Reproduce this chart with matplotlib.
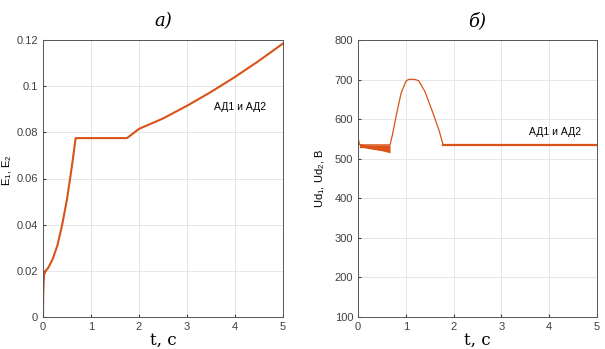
import numpy as np
import matplotlib.pyplot as plt

plt.rcParams['font.family'] = ['Liberation Sans', 'DejaVu Sans']
plt.rcParams['mathtext.fontset'] = 'custom'
plt.rcParams['mathtext.rm'] = 'Liberation Sans'
plt.rcParams['mathtext.it'] = 'Liberation Sans'

# a) E1, E2 vs t
t_e = [0, 0.005, 0.02, 0.05, 0.1, 0.2, 0.3, 0.4, 0.5, 0.6, 0.68, 0.7,
       1.0, 1.5, 1.75, 2.0, 2.5, 3.0, 3.5, 4.0, 4.5, 5.0]
e_vals = [0, 0.010, 0.018, 0.020, 0.021, 0.025, 0.031, 0.040, 0.051, 0.065, 0.0775, 0.0775,
          0.0775, 0.0775, 0.0775, 0.0815, 0.0860, 0.0915, 0.0975, 0.1040, 0.1110, 0.1185]

# б) Ud1, Ud2 vs t
t_u = [0, 0.003, 0.01, 0.03, 0.1, 0.3, 0.5, 0.67, 0.72, 0.81, 0.9, 1.0, 1.05, 1.1,
       1.2, 1.27, 1.4, 1.57, 1.7, 1.78, 2.0, 3.0, 4.0, 5.0]
u_vals = [180, 400, 548, 536, 535, 535, 535, 535, 560, 615, 665, 695, 700, 701,
          700, 697, 670, 615, 570, 535, 535, 535, 535, 535]
# ripple band at start (upper / lower envelope)
t_band = [0.03, 0.1, 0.3, 0.5, 0.67]
band_hi = [537, 536, 535, 535, 535]
band_lo = [528, 528, 524, 520, 515]

col = '#D95319'
label = 'АД1 и АД2'

fig = plt.figure(figsize=(6.05, 3.49), dpi=100)
ax1 = fig.add_axes([43/605, 32/349, 240/605, 277/349])
ax2 = fig.add_axes([358/605, 32/349, 239/605, 277/349])

ax1.plot(t_e, e_vals, color=col, lw=1.5)
ax1.set_ylim(0, 0.12)
ax1.set_yticks([0, 0.02, 0.04, 0.06, 0.08, 0.1, 0.12])
ax1.set_yticklabels(['0', '0.02', '0.04', '0.06', '0.08', '0.1', '0.12'])
ax1.set_ylabel('E$_1$, E$_2$', fontsize=8)
ax1.yaxis.set_label_coords(-0.12, 0.53)
ax1.text(4.1, 0.091, label, fontsize=7.5, ha='center', va='center')

ax2.plot(t_u, u_vals, color=col, lw=0.9)
ax2.fill_between(t_band, band_lo, band_hi, color=col, lw=0)
ax2.plot([1.78, 5.0], [535, 535], color=col, lw=1.6)
ax2.set_ylim(100, 800)
ax2.set_ylabel('Ud$_1$, Ud$_2$, В', fontsize=8)
ax2.yaxis.set_label_coords(-0.13, 0.5)
ax2.text(4.12, 568, label, fontsize=7.5, ha='center', va='center')

for ax, ttl in ((ax1, 'а)'), (ax2, 'б)')):
    ax.set_xlim(0, 5)
    ax.set_xticks(range(6))
    ax.grid(True, color='#e6e6e6', lw=0.7)
    ax.set_axisbelow(True)
    ax.tick_params(labelsize=8, colors='#404040', length=2, direction='in')
    for s in ax.spines.values():
        s.set_color('#555555')
        s.set_linewidth(0.7)
    ax.set_xlabel('t, с', family='DejaVu Serif', fontsize=12, labelpad=0)
    ax.set_title(ttl, family='DejaVu Serif', style='italic', fontsize=13, pad=10)

fig.savefig('out.png', dpi=100)
